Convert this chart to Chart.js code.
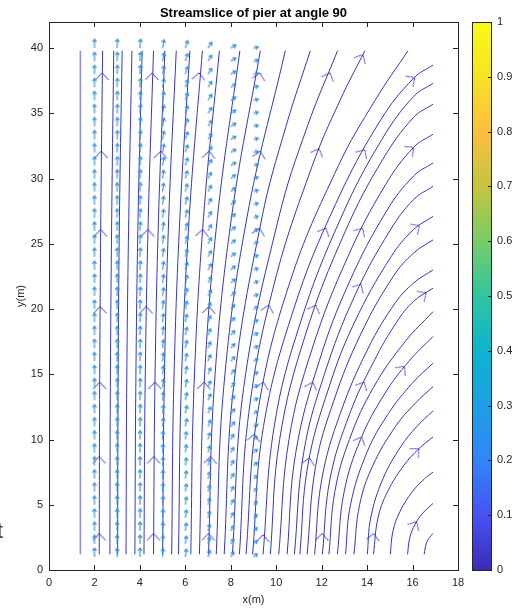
<!DOCTYPE html>
<html>
<head>
<meta charset="utf-8">
<script src="https://cdn.jsdelivr.net/npm/chart.js@4.4.1/dist/chart.umd.min.js"></script>
<style>
  html, body { margin: 0; padding: 0; background: #fff; }
  #wrap { position: relative; width: 518px; height: 612px; overflow: hidden; }
  #main { position: absolute; left: 0; top: 0; }
  #cbar { position: absolute; left: 470px; top: 0; }
</style>
</head>
<body>
<div id="wrap">
  <canvas id="main" width="518" height="612" style="width:518px;height:612px"></canvas>
  <canvas id="cbar" width="48" height="612" style="width:48px;height:612px"></canvas>
</div>
<script>
// Streamslice of pier at angle 90

const xTicks = [0, 2, 4, 6, 8, 10, 12, 14, 16, 18];
const yTicks = [0, 5, 10, 15, 20, 25, 30, 35, 40];
const cbTicks = [0, 0.1, 0.2, 0.3, 0.4, 0.5, 0.6, 0.7, 0.8, 0.9, 1];

// streamlines, each a list of [x, y] points (m)
const streamlines = [
    [[1.38, 1.2], [1.38, 39.8]],
    [[2.21, 1.2], [2.23, 14], [2.28, 27], [2.36, 39.8]],
    [[2.68, 1.2], [2.70, 14], [2.76, 27], [2.85, 39.8]],
    [[3.02, 1.2], [3.04, 14], [3.10, 27], [3.22, 39.8]],
    [[3.39, 1.2], [3.42, 14], [3.51, 27], [3.65, 39.8]],
    [[3.78, 1.2], [3.82, 14], [3.92, 27], [4.10, 39.8]],
    [[4.18, 1.2], [4.23, 14], [4.37, 27], [4.60, 39.8]],
    [[4.6, 1.2], [4.66, 14], [4.82, 27], [5.10, 39.8]],
    [[5.0, 1.2], [5.07, 14], [5.27, 27], [5.60, 39.8]],
    [[5.4, 1.2], [5.49, 14], [5.76, 27], [6.20, 39.8]],
    [[5.7, 1.2], [5.82, 14], [6.17, 27], [6.75, 39.8]],
    [[6.24, 1.2], [6.38, 14], [6.80, 27], [7.50, 39.8]],
    [[6.62, 1.2], [6.82, 14], [7.41, 27], [8.40, 39.8]],
    [[7.02, 1.2], [7.27, 14], [8.03, 27], [9.30, 39.8]],
    [[7.36, 1.2], [7.69, 14], [8.71, 27], [10.4, 39.8]],
    [[7.71, 1.2], [8.12, 14], [9.37, 27], [10.43, 34], [11.5, 39.8]],
    [[8.07, 1.2], [8.57, 14], [10.11, 27], [11.37, 34], [12.7, 39.8]],
    [[8.38, 1.2], [8.79, 12], [9.92, 22], [11.59, 31], [12.81, 36], [13.9, 39.8]],
    [[8.67, 1.2], [9.18, 12], [10.59, 22], [12.74, 31], [14.35, 36], [15.8, 39.8]],
    [[8.96, 1.2], [9.44, 11], [10.77, 20], [12.6, 28], [14.6, 34.5], [16.05, 37.7], [16.9, 38.7]],
    [[9.42, 1.2], [9.91, 11], [11.07, 19], [12.85, 27], [14.65, 33], [16.05, 36.3], [16.9, 37.3]],
    [[9.74, 1.2], [10.15, 10], [11.28, 18], [13.05, 26], [14.7, 31.5], [16.05, 34.7], [16.9, 35.7]],
    [[10.11, 1.2], [10.56, 10], [11.59, 17], [13.15, 24], [14.8, 29.5], [16.05, 32.4], [16.9, 33.4]],
    [[10.48, 1.2], [10.86, 9], [11.89, 16], [13.2, 22], [14.85, 27.5], [16.05, 30.2], [16.9, 31.2]],
    [[10.8, 1.2], [11.21, 9], [12.12, 15], [13.45, 21], [15.0, 26], [16.05, 28.4], [16.9, 29.4]],
    [[11.04, 1.2], [11.39, 8], [12.32, 14], [13.45, 19], [15.05, 24], [16.05, 26.1], [16.9, 27.1]],
    [[11.36, 1.2], [11.74, 8], [12.54, 13], [13.7, 18], [15.15, 22.5], [16.05, 24.3], [16.9, 25.3]],
    [[11.69, 1.2], [12.01, 7], [12.82, 12], [14.05, 17], [15.25, 20.5], [16.05, 22.0], [16.9, 23.0]],
    [[12.03, 1.2], [12.37, 7], [13.24, 12], [14.3, 16], [15.3, 19], [16.05, 20.6], [16.9, 21.6]],
    [[12.32, 1.2], [12.58, 6], [13.22, 10], [14.28, 14], [15.67, 17.5], [16.9, 19.8]],
    [[12.69, 1.2], [12.99, 6], [13.71, 10], [14.77, 13.5], [15.84, 16], [16.9, 17.9]],
    [[13.05, 1.2], [13.27, 5], [13.99, 9], [14.94, 12], [15.98, 14.3], [16.9, 15.85]],
    [[13.42, 1.2], [13.67, 5], [14.25, 8], [15.25, 11], [16.13, 12.8], [16.9, 14.05]],
    [[14.01, 1.2], [14.16, 4], [14.70, 7], [15.50, 9.5], [16.19, 11], [16.9, 12.2]],
    [[14.28, 1.2], [14.48, 4], [14.9, 6], [15.61, 8], [16.28, 9.3], [16.9, 10.2]],
    [[15.02, 1.2], [15.14, 3], [15.45, 4.5], [15.99, 6], [16.53, 7], [16.9, 7.5]],
    [[15.78, 1.2], [15.88, 2.5], [16.11, 3.5], [16.42, 4.3], [16.9, 5.1]],
    [[16.51, 1.2], [16.6, 2.0], [16.75, 2.5], [16.9, 2.8]]
];

// arrowheads on the streamlines: position and heading (deg clockwise from up)
const arrowX = [2.21, 2.21, 2.23, 2.25, 2.27, 2.30, 2.34,
                4.6, 4.61, 4.66, 4.28, 4.35, 4.92, 4.54,
                7.02, 7.11, 6.83, 7.05, 6.76, 7.05, 6.6,
                9.42, 9.04, 9.43, 9.67, 9.27, 9.30, 9.28,
                12.03, 11.46, 11.6, 11.74, 12.19, 11.89, 12.37,
                14.29, 13.76, 13.87, 13.73, 13.8, 13.9, 13.81,
                16.18, 16.28, 15.65, 16.6, 16.3, 16.05, 16.1];
const arrowY = [2.8, 8.7, 14.4, 20.2, 26.1, 32.1, 38.1,
                2.8, 8.7, 14.4, 20.2, 26.1, 32.1, 38.1,
                2.8, 8.7, 14.4, 20.2, 26.1, 32.1, 38.1,
                2.7, 10.4, 14.4, 20.3, 26.2, 32.1, 38.1,
                2.8, 8.6, 14.4, 20.3, 26.2, 32.3, 38.1,
                2.8, 10.2, 14.4, 21.9, 26.2, 32.2, 39.5,
                3.7, 9.3, 15.6, 21.25, 26.4, 32.4, 37.75];
const arrowAngle = [0, 0.1, 0.2, 0.3, 0.4, 0.5, 0.6,
                    0.1, 0.3, 0.6, 0.9, 1.1, 2.0, 2.0,
                    0.5, 2.3, 3.1, 4.5, 4.2, 5.2, 5.2,
                    1.5, 8, 11.5, 13.4, 12.4, 12.4, 12.2,
                    3.2, 11.2, 16.7, 20.7, 25, 22.1, 22.9,
                    8.2, 23.3, 27.2, 30, 31, 33, 27.7,
                    30.8, 46.4, 39.3, 56, 55, 52, 55];

// quiver grid: columns, rows, arrow length (px) per column,
// heading per column for rows 1-10, 11-20, 21-30, 31-40
const quiverX = [2, 3, 4, 5, 6, 7, 8, 9];
const quiverY = [1, 2, 3, 4, 5, 6, 7, 8, 9, 10, 11, 12, 13, 14, 15, 16, 17, 18, 19, 20,
                 21, 22, 23, 24, 25, 26, 27, 28, 29, 30, 31, 32, 33, 34, 35, 36, 37, 38, 39, 40];
const quiverLen = [9, 9, 9, 8.5, 8, 7, 6, 5];
const quiverAngle = [
    [0, 0, 0, 0],
    [0, 1, 1, 2],
    [2, 3, 4, 5],
    [4, 6, 8, 10],
    [8, 12, 15, 18],
    [15, 22, 28, 32],
    [30, 42, 50, 58],
    [50, 65, 72, 78]
];

const cbColors = ['#3b2cb8', '#4752f4', '#3285fb', '#1ca0e5', '#0cb4cf', '#2fc5a2',
                  '#78cc68', '#c4c53e', '#fdbe3d', '#f5e323', '#f9fb15'];

const lineColor = '#3535c4';
const quiverColor = '#2f90d4';
const textColor = '#262626';
const fontFamily = "'Liberation Sans', Arial, sans-serif";

function makeChevron() {
    const c = document.createElement('canvas');
    c.width = 20; c.height = 20;
    const g = c.getContext('2d');
    g.strokeStyle = lineColor;
    g.lineWidth = 1;
    g.beginPath();
    g.moveTo(3.5, 17);
    g.lineTo(10, 10);
    g.lineTo(16.5, 17);
    g.stroke();
    return c;
}

function makeQuiver(len) {
    const s = Math.ceil(len * 2 + 8);
    const c = document.createElement('canvas');
    c.width = s; c.height = s;
    const g = c.getContext('2d');
    const m = s / 2;
    g.strokeStyle = quiverColor;
    g.lineWidth = 1.1;
    g.beginPath();
    g.moveTo(m, m);
    g.lineTo(m, m - len);
    g.moveTo(m - 2, m - len + 3);
    g.lineTo(m, m - len);
    g.lineTo(m + 2, m - len + 3);
    g.stroke();
    return c;
}

const chevron = makeChevron();
const quiverGlyphs = quiverLen.map(makeQuiver);

const quiverData = [];
quiverX.forEach((x, c) => {
    quiverY.forEach((y, r) => {
        quiverData.push({ x: x, y: y, c: c, b: Math.min(3, Math.floor(r / 10)) });
    });
});

const datasets = [];
datasets.push({
    data: quiverData,
    pointStyle: ctx => ctx.raw ? quiverGlyphs[ctx.raw.c] : 'circle',
    rotation: ctx => ctx.raw ? quiverAngle[ctx.raw.c][ctx.raw.b] : 0,
    pointRadius: 3,
    showLine: false
});
datasets.push({
    data: arrowX.map((x, i) => ({ x: x, y: arrowY[i] })),
    pointStyle: chevron,
    rotation: ctx => arrowAngle[ctx.dataIndex] || 0,
    pointRadius: 3,
    showLine: false
});
streamlines.forEach((pts, i) => {
    datasets.push({
        data: pts.map(p => ({ x: p[0], y: p[1] })),
        showLine: true,
        pointRadius: 0,
        borderColor: i === 0 ? '#8f8fde' : lineColor,
        borderWidth: i === 0 ? 1.6 : 1,
        tension: 0.4,
        fill: false
    });
});

// box, inward ticks, title
const framePlugin = {
    id: 'frame',
    afterDatasetsDraw(chart) {
        const { ctx, chartArea: a, scales } = chart;
        ctx.save();
        ctx.strokeStyle = textColor;
        ctx.lineWidth = 1;
        ctx.strokeRect(Math.round(a.left) + 0.5, Math.round(a.top) + 0.5,
                       Math.round(a.right - a.left), Math.round(a.bottom - a.top));
        ctx.beginPath();
        xTicks.forEach(v => {
            const px = Math.round(scales.x.getPixelForValue(v)) + 0.5;
            ctx.moveTo(px, a.bottom); ctx.lineTo(px, a.bottom - 5);
            ctx.moveTo(px, a.top); ctx.lineTo(px, a.top + 5);
        });
        yTicks.forEach(v => {
            const py = Math.round(scales.y.getPixelForValue(v)) + 0.5;
            ctx.moveTo(a.left, py); ctx.lineTo(a.left + 5, py);
            ctx.moveTo(a.right, py); ctx.lineTo(a.right - 5, py);
        });
        ctx.stroke();
        ctx.fillStyle = '#000';
        ctx.font = 'bold 13px ' + fontFamily;
        ctx.textAlign = 'center';
        ctx.textBaseline = 'alphabetic';
        ctx.fillText('Streamslice of pier at angle 90', (a.left + a.right) / 2, 17);
        // clipped glyph at the left edge of the reference
        ctx.fillStyle = '#444';
        ctx.font = '22px ' + fontFamily;
        ctx.textAlign = 'left';
        ctx.fillText('t', -3, 538);
        ctx.restore();
    }
};

new Chart(document.getElementById('main'), {
    type: 'scatter',
    data: { datasets: datasets },
    options: {
        responsive: false,
        animation: false,
        layout: { padding: { top: 22, right: 60, left: 0, bottom: 0 } },
        plugins: { legend: { display: false }, tooltip: { enabled: false } },
        scales: {
            x: {
                type: 'linear', min: 0, max: 18,
                afterBuildTicks: s => { s.ticks = xTicks.map(v => ({ value: v })); },
                afterFit: s => { s.height = 42; },
                grid: { display: false, drawTicks: false }, border: { display: false },
                ticks: { color: textColor, font: { family: fontFamily, size: 11 }, padding: 6, maxRotation: 0, autoSkip: false },
                title: { display: true, text: 'x(m)', color: textColor, font: { family: fontFamily, size: 11 }, padding: { top: 0, bottom: 5 } }
            },
            y: {
                type: 'linear', min: 0, max: 42,
                afterBuildTicks: s => { s.ticks = yTicks.map(v => ({ value: v })); },
                afterFit: s => { s.width = 49; },
                grid: { display: false, drawTicks: false }, border: { display: false },
                ticks: { color: textColor, font: { family: fontFamily, size: 11 }, padding: 6, autoSkip: false },
                title: { display: true, text: 'y(m)', color: textColor, font: { family: fontFamily, size: 11 }, padding: { top: 14, bottom: 0 } }
            }
        }
    },
    plugins: [framePlugin]
});

// colorbar
const cbFrame = {
    id: 'cbFrame',
    afterDatasetsDraw(chart) {
        const { ctx, chartArea: a, scales } = chart;
        ctx.save();
        ctx.strokeStyle = textColor;
        ctx.lineWidth = 1;
        ctx.strokeRect(Math.round(a.left) + 0.5, Math.round(a.top) + 0.5,
                       Math.round(a.right - a.left) - 1, Math.round(a.bottom - a.top));
        ctx.beginPath();
        cbTicks.forEach(v => {
            const py = Math.round(scales.y.getPixelForValue(v)) + 0.5;
            ctx.moveTo(a.right - 1, py); ctx.lineTo(a.right - 4, py);
        });
        ctx.stroke();
        ctx.restore();
    }
};

new Chart(document.getElementById('cbar'), {
    type: 'bar',
    data: {
        labels: [''],
        datasets: [{
            data: [1],
            borderWidth: 0,
            barPercentage: 1,
            categoryPercentage: 1,
            backgroundColor: ctx => {
                const a = ctx.chart.chartArea;
                if (!a) return cbColors[0];
                const g = ctx.chart.ctx.createLinearGradient(0, a.bottom, 0, a.top);
                cbColors.forEach((col, i) => g.addColorStop(cbTicks[i], col));
                return g;
            }
        }]
    },
    options: {
        responsive: false,
        animation: false,
        layout: { padding: { left: 2, top: 22, bottom: 42, right: 0 } },
        plugins: { legend: { display: false }, tooltip: { enabled: false } },
        scales: {
            x: { display: false },
            y: {
                position: 'right', min: 0, max: 1,
                afterBuildTicks: s => { s.ticks = cbTicks.map(v => ({ value: v })); },
                afterFit: s => { s.width = 26; },
                grid: { display: false, drawTicks: false }, border: { display: false },
                ticks: { color: textColor, font: { family: fontFamily, size: 11 }, padding: 5, autoSkip: false,
                         callback: v => String(v) }
            }
        }
    },
    plugins: [cbFrame]
});
</script>
</body>
</html>
